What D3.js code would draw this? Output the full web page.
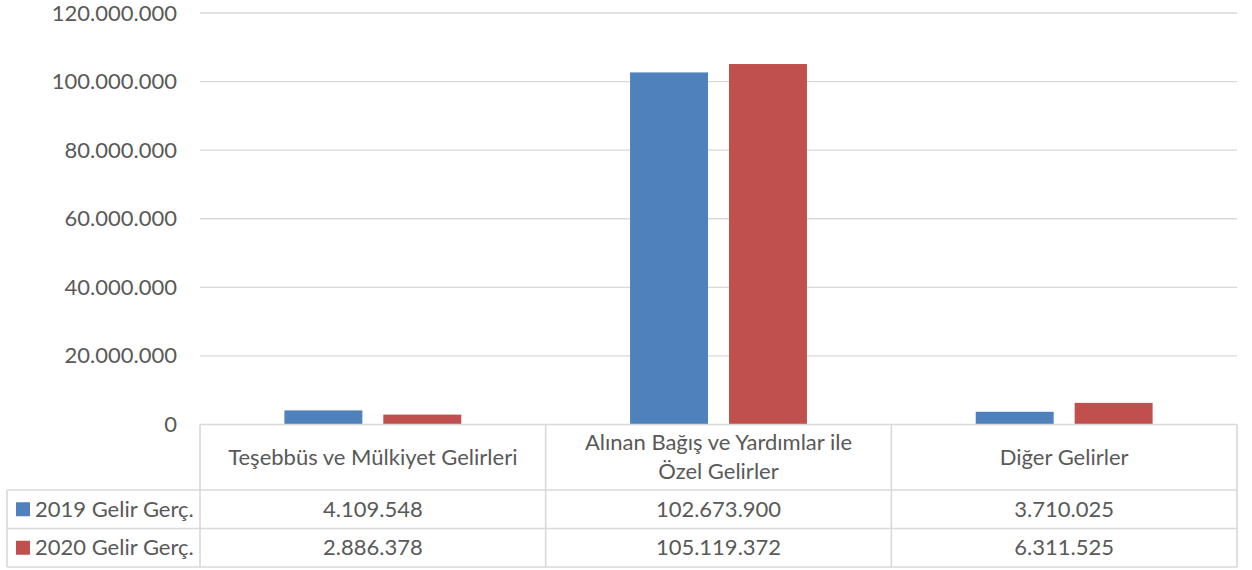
<!DOCTYPE html>
<html>
<head>
<meta charset="utf-8">
<script src="https://cdn.jsdelivr.net/npm/d3@7"></script>
<style>
  body { margin: 0; background: #fff; }
  text { font-family: Lato, 'Open Sans', sans-serif; fill: #595959; }
</style>
</head>
<body>
<svg id="chart" width="1252" height="570"></svg>
<script>
// data
const categories = [
  ['Teşebbüs ve Mülkiyet Gelirleri'],
  ['Alınan Bağış ve Yardımlar ile', 'Özel Gelirler'],
  ['Diğer Gelirler'],
]
const seriesNames = ['2019 Gelir Gerç.', '2020 Gelir Gerç.']
const values2019 = [4109548, 102673900, 3710025]
const values2020 = [2886378, 105119372, 6311525]
const yTicks = [0, 20000000, 40000000, 60000000, 80000000, 100000000, 120000000]
const colors = ['#4f81bd', '#c0504d']

const series = [values2019, values2020]
const fmt = (v) => d3.format(',')(v).replace(/,/g, '.')

const plot = { left: 200, right: 1237, top: 13, bottom: 424.5 }
const rowH = [65.5, 38.5, 38.5] // header, row 2019, row 2020
const legendLeft = 7
const fontSize = 22

const svg = d3.select('#chart')

const x = d3
  .scaleBand()
  .domain(d3.range(categories.length))
  .range([plot.left, plot.right])
  .paddingInner(0)
  .paddingOuter(0)

const xs = d3
  .scaleBand()
  .domain(d3.range(series.length))
  .range([0, x.bandwidth()])
  .paddingInner(0.212)
  .paddingOuter(0.853)

const y = d3
  .scaleLinear()
  .domain([0, 120000000])
  .range([plot.bottom, plot.top])

// gridlines
svg
  .append('g')
  .selectAll('line')
  .data(yTicks.slice(1))
  .enter()
  .append('line')
  .attr('x1', plot.left)
  .attr('x2', plot.right)
  .attr('y1', (d) => y(d))
  .attr('y2', (d) => y(d))
  .attr('stroke', '#d9d9d9')
  .attr('stroke-width', 1.3)

// y axis labels
const yAxis = d3
  .axisLeft(y)
  .tickValues(yTicks)
  .tickFormat(fmt)
  .tickSize(0)
  .tickPadding(0)
const gY = svg
  .append('g')
  .attr('transform', `translate(${plot.left - 23},0)`)
  .call(yAxis)
gY.select('.domain').remove()
gY.selectAll('text')
  .style('font-size', fontSize + 'px')
  .attr('fill', '#595959')
  .style('font-family', 'Lato, sans-serif')

// bars
series.forEach((vals, si) => {
  svg
    .append('g')
    .selectAll('rect')
    .data(vals)
    .enter()
    .append('rect')
    .attr('x', (d, i) => x(i) + xs(si))
    .attr('width', xs.bandwidth())
    .attr('y', (d) => y(d))
    .attr('height', (d) => y(0) - y(d))
    .attr('fill', colors[si])
})

// data table
const tY0 = plot.bottom
const tY1 = tY0 + rowH[0]
const tY2 = tY1 + rowH[1]
const tY3 = tY2 + rowH[2]
const grid = svg
  .append('g')
  .attr('stroke', '#d9d9d9')
  .attr('stroke-width', 1.6)
  .attr('fill', 'none')

const hLines = [
  [plot.left, plot.right, tY0],
  [legendLeft, plot.right, tY1],
  [legendLeft, plot.right, tY2],
  [legendLeft, plot.right, tY3],
]
grid
  .selectAll('.h')
  .data(hLines)
  .enter()
  .append('line')
  .attr('x1', (d) => d[0])
  .attr('x2', (d) => d[1])
  .attr('y1', (d) => d[2])
  .attr('y2', (d) => d[2])

const colEdges = d3.range(categories.length).map((i) => x(i)).concat([plot.right])
grid
  .selectAll('.v')
  .data(colEdges)
  .enter()
  .append('line')
  .attr('x1', (d) => d)
  .attr('x2', (d) => d)
  .attr('y1', tY0)
  .attr('y2', tY3)
grid
  .append('line')
  .attr('x1', legendLeft)
  .attr('x2', legendLeft)
  .attr('y1', tY1)
  .attr('y2', tY3)

// category headers
const lineH = 29
categories.forEach((lines, i) => {
  const cy = tY0 + rowH[0] / 2
  const t = svg
    .append('text')
    .attr('x', x(i) + x.bandwidth() / 2)
    .attr('text-anchor', 'middle')
    .style('font-size', fontSize + 'px')
  lines.forEach((ln, k) => {
    t.append('tspan')
      .attr('x', x(i) + x.bandwidth() / 2)
      .attr('y', cy + (k - (lines.length - 1) / 2) * lineH)
      .attr('dy', '0.35em')
      .text(ln)
  })
})

// value rows + legend
const rowTops = [tY1, tY2]
series.forEach((vals, si) => {
  const cy = rowTops[si] + rowH[si + 1] / 2
  svg
    .append('rect')
    .attr('x', 16)
    .attr('y', cy - 7)
    .attr('width', 14)
    .attr('height', 14)
    .attr('fill', colors[si])
  svg
    .append('text')
    .attr('x', 35)
    .attr('y', cy)
    .attr('dy', '0.35em')
    .style('font-size', fontSize + 'px')
    .text(seriesNames[si])
  svg
    .append('g')
    .selectAll('text')
    .data(vals)
    .enter()
    .append('text')
    .attr('x', (d, i) => x(i) + x.bandwidth() / 2)
    .attr('y', cy)
    .attr('dy', '0.35em')
    .attr('text-anchor', 'middle')
    .style('font-size', fontSize + 'px')
    .text(fmt)
})
</script>
</body>
</html>
